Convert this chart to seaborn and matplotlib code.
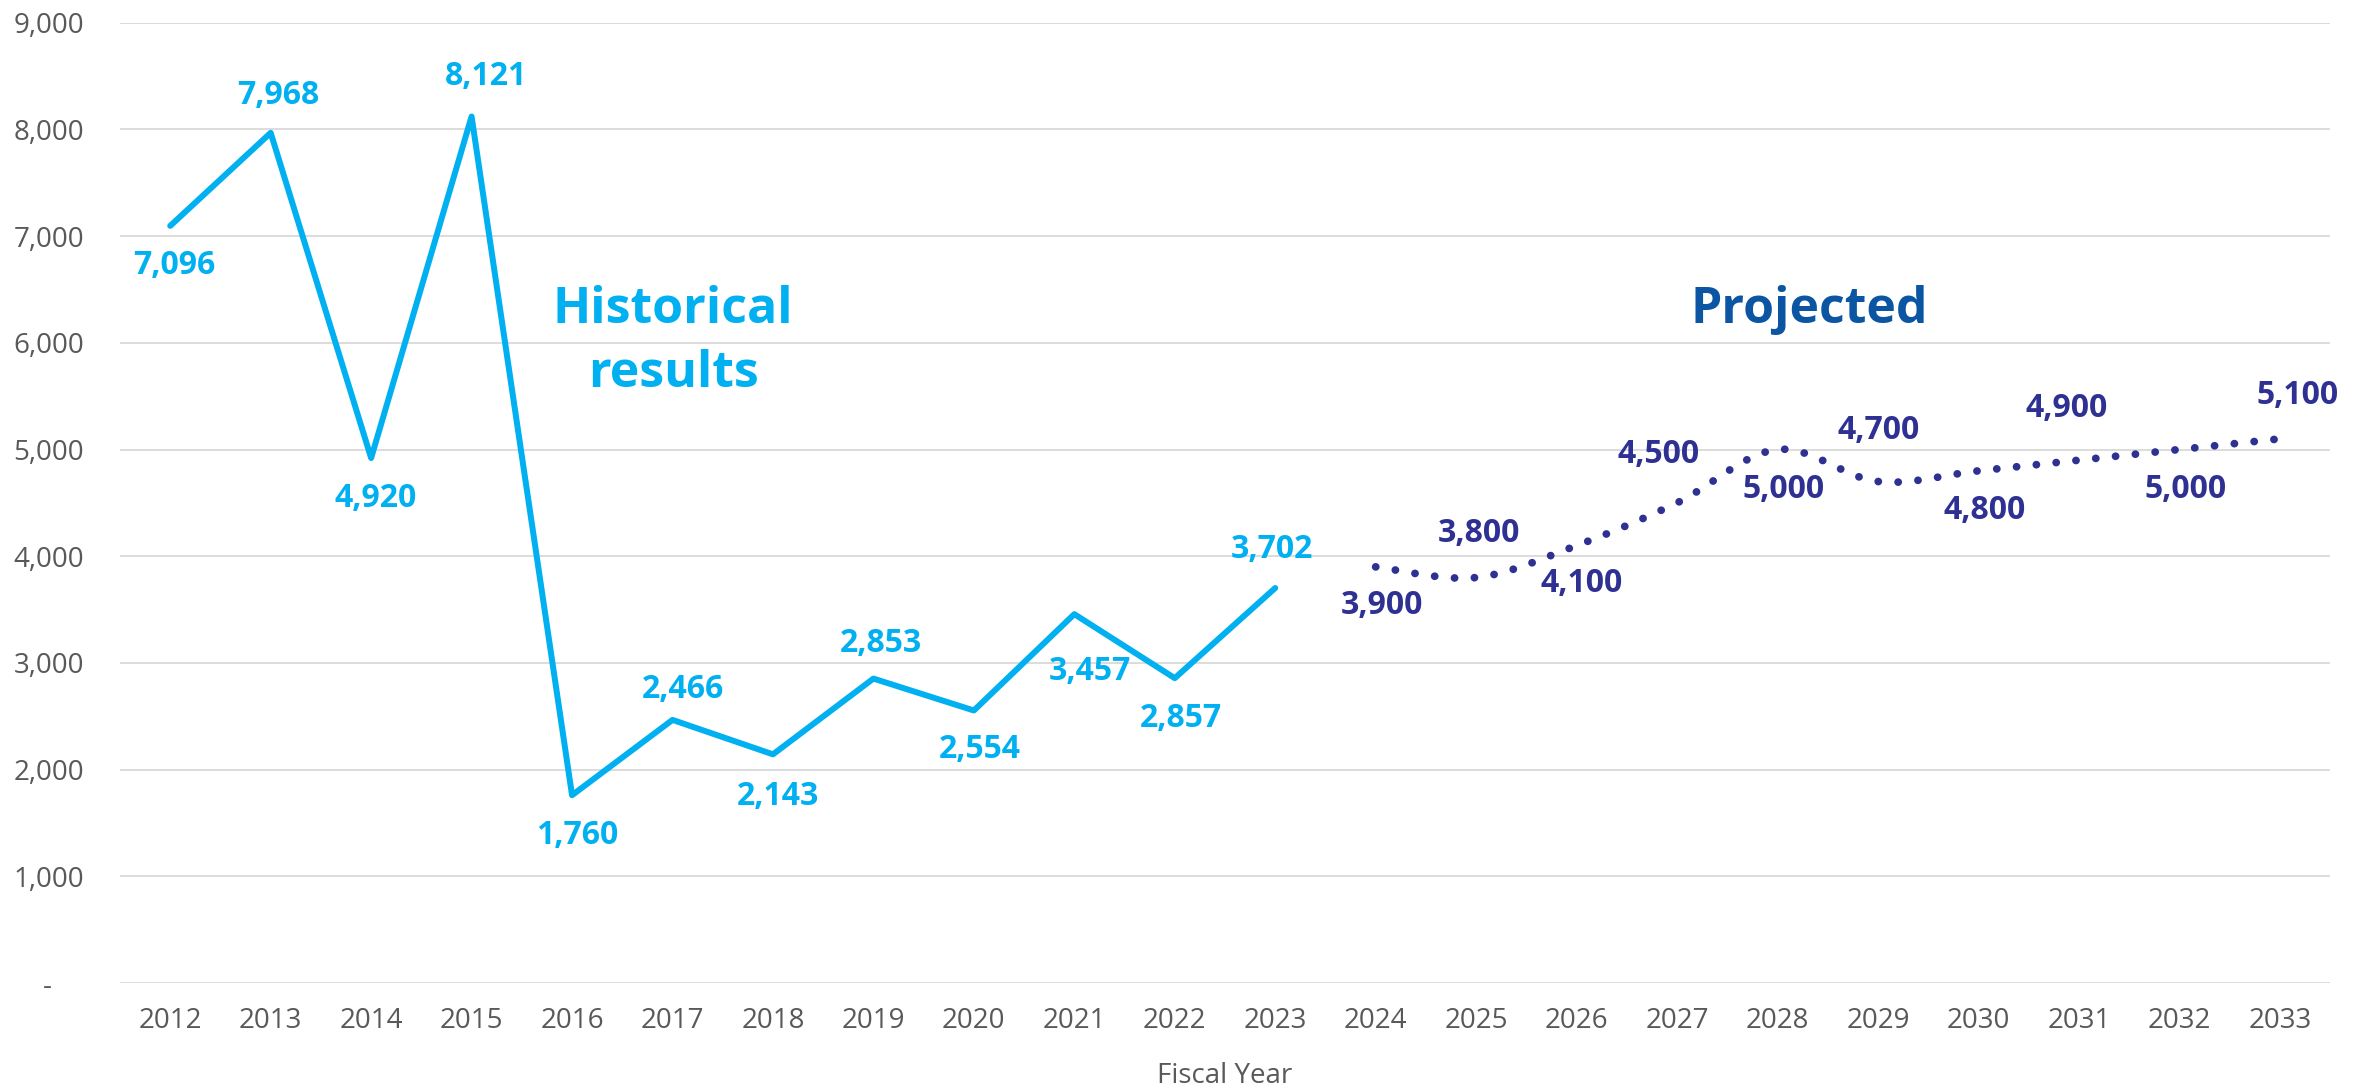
import numpy as np
import pandas as pd
import matplotlib
matplotlib.use("Agg")
import matplotlib.pyplot as plt
from matplotlib.ticker import FuncFormatter, MultipleLocator
import seaborn as sns

# chart data
hist_years = [2012, 2013, 2014, 2015, 2016, 2017, 2018, 2019, 2020, 2021, 2022, 2023]
hist_values = [7096, 7968, 4920, 8121, 1760, 2466, 2143, 2853, 2554, 3457, 2857, 3702]
proj_years = [2024, 2025, 2026, 2027, 2028, 2029, 2030, 2031, 2032, 2033]
proj_values = [3900, 3800, 4100, 4500, 5000, 4700, 4800, 4900, 5000, 5100]
all_years = hist_years + proj_years

# label offsets in pixels (dx, dy down) from each point to the label centre
hist_offsets = [(4, 37), (8, -40), (4, 38), (14, -42), (5, 38), (10, -33),
                (5, 40), (8, -38), (6, 37), (16, 55), (6, 38), (-3, -41)]
proj_offsets = [(6, 36), (3, -47), (5, 35), (-18, -51), (6, 37), (1, -54),
                (6, 37), (-12, -54), (6, 37), (18, -46)]

HIST_C = "#00B0F0"
PROJ_C = "#2E3192"
TITLE_C = "#0B55A3"
GREY = "#595959"

sns.set_theme(style="white")
plt.rcParams["font.family"] = ["Open Sans", "DejaVu Sans"]


def smooth(xs, ys, n=40):
    # Excel style smoothed line: cubic bezier with catmull-rom control points
    xs = np.asarray(xs, float)
    ys = np.asarray(ys, float)
    px = np.concatenate([[xs[0]], xs, [xs[-1]]])
    py = np.concatenate([[ys[0]], ys, [ys[-1]]])
    out_x, out_y = [], []
    t = np.linspace(0, 1, n)
    for i in range(1, len(px) - 2):
        p0 = np.array([px[i], py[i]])
        p3 = np.array([px[i + 1], py[i + 1]])
        c1 = p0 + (p3 - np.array([px[i - 1], py[i - 1]])) / 6
        c2 = p3 - (np.array([px[i + 2], py[i + 2]]) - p0) / 6
        pts = ((1 - t) ** 3)[:, None] * p0 + (3 * (1 - t) ** 2 * t)[:, None] * c1 \
            + (3 * (1 - t) * t ** 2)[:, None] * c2 + (t ** 3)[:, None] * p3
        if i > 1:
            pts = pts[1:]
        out_x.extend(pts[:, 0])
        out_y.extend(pts[:, 1])
    return out_x, out_y


fig = plt.figure(figsize=(23.69, 10.91), dpi=100)
ax = fig.add_axes([120 / 2369, 1 - 983 / 1091, 2210 / 2369, (983 - 22.7) / 1091])

hist = pd.DataFrame({"year": hist_years, "value": hist_values})
sns.lineplot(data=hist, x="year", y="value", ax=ax, color=HIST_C, linewidth=4.3,
             solid_joinstyle="round", solid_capstyle="round")

sx, sy = smooth(proj_years, proj_values)
proj = pd.DataFrame({"year": sx, "value": sy})
sns.lineplot(data=proj, x="year", y="value", ax=ax, color=PROJ_C, linewidth=5.6,
             sort=False, linestyle=(0, (0.01, 2.55)), dash_capstyle="round")

px2pt = 0.72
for yr, v, (dx, dy) in zip(hist_years, hist_values, hist_offsets):
    ax.annotate(f"{v:,}", (yr, v), xytext=(dx * px2pt, -(dy + 11) * px2pt),
                textcoords="offset points", ha="center", va="baseline",
                fontsize=23, fontweight="bold", color=HIST_C)
for yr, v, (dx, dy) in zip(proj_years, proj_values, proj_offsets):
    ax.annotate(f"{v:,}", (yr, v), xytext=(dx * px2pt, -(dy + 11) * px2pt),
                textcoords="offset points", ha="center", va="baseline",
                fontsize=23, fontweight="bold", color=PROJ_C)

# section captions
fig.text(673 / 2369, 1 - 323 / 1091, "Historical", ha="center", va="baseline",
         fontsize=36, fontweight="bold", color=HIST_C)
fig.text(673 / 2369, 1 - 387 / 1091, "results", ha="center", va="baseline",
         fontsize=36, fontweight="bold", color=HIST_C)
fig.text(1809 / 2369, 1 - 323 / 1091, "Projected", ha="center", va="baseline",
         fontsize=36, fontweight="bold", color=TITLE_C)

ax.set_xlim(all_years[0] - 0.5, all_years[-1] + 0.5)
ax.set_ylim(0, 9000)
ax.set_xticks(all_years)
ax.set_xticklabels([str(y) for y in all_years])
ax.yaxis.set_major_locator(MultipleLocator(1000))
ax.yaxis.set_major_formatter(FuncFormatter(
    lambda v, p: "-\u2007\u2007" if v == 0 else f"{v:,.0f}"))
ax.tick_params(axis="both", length=0, labelsize=20, labelcolor=GREY)
ax.tick_params(axis="x", pad=17)
ax.tick_params(axis="y", pad=26)
ax.grid(axis="y", color="#D9D9D9", linewidth=1.3)
ax.grid(axis="x", visible=False)
ax.set_axisbelow(True)
for s in ax.spines.values():
    s.set_visible(False)
ax.set_ylabel("")
ax.set_xlabel("Fiscal Year", fontsize=20, color=GREY, labelpad=20)

fig.savefig("out.png", dpi=100)
